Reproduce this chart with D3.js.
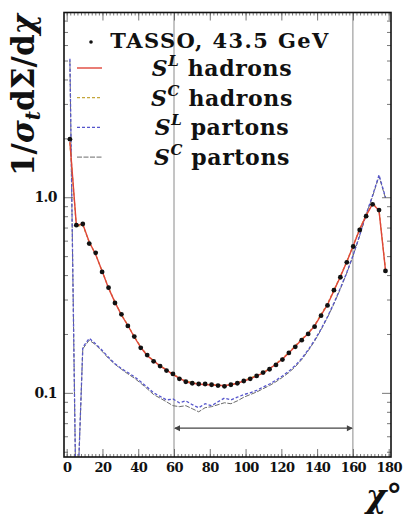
<!DOCTYPE html>
<html>
<head>
<meta charset="utf-8">
<script src="https://cdn.jsdelivr.net/npm/d3@7"></script>
<style>
  body { margin: 0; background: #fff; }
  svg { display: block; }
  text { font-family: "DejaVu Serif", serif; font-weight: bold; fill: #111; }
</style>
</head>
<body>
<svg width="404" height="516"></svg>
<script>
// bin centres of the 3.6 degree bins
var chi = [1.8, 5.4, 9.0, 12.6, 16.2, 19.8, 23.4, 27.0, 30.6, 34.2,
  37.8, 41.4, 45.0, 48.6, 52.2, 55.8, 59.4, 63.0, 66.6, 70.2,
  73.8, 77.4, 81.0, 84.6, 88.2, 91.8, 95.4, 99.0, 102.6, 106.2,
  109.8, 113.4, 117.0, 120.6, 124.2, 127.8, 131.4, 135.0, 138.6, 142.2,
  145.8, 149.4, 153.0, 156.6, 160.2, 163.8, 167.4, 171.0, 174.6, 178.2];

var tasso = [1.98, 0.72, 0.73, 0.58, 0.52, 0.415, 0.345, 0.288, 0.252, 0.220,
  0.194, 0.170, 0.156, 0.145, 0.137, 0.130, 0.125, 0.118, 0.114, 0.112,
  0.111, 0.111, 0.110, 0.109, 0.108, 0.110, 0.112, 0.115, 0.118, 0.122,
  0.127, 0.132, 0.139, 0.148, 0.160, 0.172, 0.186, 0.200, 0.218, 0.248,
  0.280, 0.335, 0.390, 0.465, 0.560, 0.680, 0.800, 0.920, 0.860, 0.420];

var hadronsL = [1.92, 0.72, 0.73, 0.59, 0.51, 0.420, 0.343, 0.290, 0.250, 0.221,
  0.193, 0.171, 0.155, 0.146, 0.137, 0.131, 0.124, 0.119, 0.114, 0.112,
  0.111, 0.110, 0.110, 0.109, 0.109, 0.110, 0.112, 0.115, 0.118, 0.122,
  0.126, 0.133, 0.140, 0.149, 0.160, 0.173, 0.187, 0.201, 0.220, 0.250,
  0.282, 0.333, 0.392, 0.468, 0.565, 0.685, 0.805, 0.925, 0.855, 0.425];

var hadronsC = [1.90, 0.71, 0.72, 0.59, 0.51, 0.418, 0.345, 0.291, 0.251, 0.222,
  0.194, 0.172, 0.156, 0.146, 0.138, 0.131, 0.125, 0.119, 0.115, 0.113,
  0.111, 0.111, 0.110, 0.110, 0.109, 0.110, 0.112, 0.116, 0.119, 0.123,
  0.127, 0.133, 0.141, 0.150, 0.161, 0.174, 0.188, 0.202, 0.222, 0.252,
  0.285, 0.336, 0.395, 0.470, 0.568, 0.690, 0.810, 0.930, 0.860, 0.430];

var partonsL = [5.1, 0.02, 0.171, 0.190, 0.178, 0.165, 0.152, 0.141, 0.133, 0.127,
  0.121, 0.114, 0.107, 0.100, 0.096, 0.092, 0.093, 0.089, 0.091, 0.087,
  0.084, 0.088, 0.086, 0.090, 0.094, 0.092, 0.095, 0.098, 0.100, 0.103,
  0.107, 0.111, 0.116, 0.122, 0.129, 0.138, 0.150, 0.166, 0.186, 0.212,
  0.245, 0.288, 0.343, 0.413, 0.508, 0.640, 0.820, 1.02, 1.30, 1.00];

var partonsC = [5.0, 0.02, 0.168, 0.186, 0.176, 0.163, 0.150, 0.140, 0.132, 0.125,
  0.119, 0.112, 0.105, 0.098, 0.094, 0.090, 0.086, 0.085, 0.086, 0.083,
  0.080, 0.084, 0.085, 0.087, 0.089, 0.088, 0.091, 0.095, 0.098, 0.101,
  0.105, 0.109, 0.114, 0.120, 0.127, 0.136, 0.148, 0.164, 0.184, 0.210,
  0.243, 0.285, 0.340, 0.410, 0.505, 0.635, 0.815, 1.01, 1.28, 0.99];

var xTicks = [0, 20, 40, 60, 80, 100, 120, 140, 160, 180];
var yTicks = [0.1, 1.0];
var fitRange = [60, 160];
var arrowLevel = 0.066;

var svg = d3.select("svg");
var pLeft = 64, pRight = 391, pTop = 12.5, pBottom = 457;

var x = d3.scaleLinear().domain([-1.5, 181.3]).range([pLeft, pRight]);
var y = d3.scaleLog().domain([0.047, 8.8]).range([pBottom, pTop]);

svg.append("defs").append("clipPath").attr("id", "plot")
  .append("rect").attr("x", pLeft).attr("y", pTop)
  .attr("width", pRight - pLeft).attr("height", pBottom - pTop);

var minorX = d3.range(0, 181, 2);
var minorY = [0.05, 0.06, 0.07, 0.08, 0.09, 0.2, 0.3, 0.4, 0.5, 0.6, 0.7, 0.8, 0.9, 2, 3, 4, 5, 6, 7, 8];

// fit range lines
var g = svg.append("g").attr("clip-path", "url(#plot)");
g.selectAll(".vline").data(fitRange).enter().append("line")
  .attr("x1", d => x(d)).attr("x2", d => x(d))
  .attr("y1", pTop).attr("y2", pBottom)
  .attr("stroke", "#8a8a8a").attr("stroke-width", 1);

// double arrow
svg.append("line")
  .attr("x1", x(fitRange[0]) + 1).attr("x2", x(fitRange[1]) - 1)
  .attr("y1", y(arrowLevel)).attr("y2", y(arrowLevel))
  .attr("stroke", "#444").attr("stroke-width", 1.4);
fitRange.forEach(function(v, i) {
  var px = x(v), py = y(arrowLevel), s = i === 0 ? 1 : -1;
  svg.append("path")
    .attr("d", "M" + px + "," + py + "l" + (6 * s) + ",-3v6z")
    .attr("fill", "#444");
});

var line = d3.line().x((d, i) => x(chi[i])).y(d => y(d));

var series = [
  {vals: partonsC, color: "#6a6a6a", dash: "5,1.5", w: 1},
  {vals: partonsL, color: "#5555cc", dash: "3,2", w: 1.3},
  {vals: hadronsC, color: "#c4a63c", dash: "3,2", w: 1.3},
  {vals: hadronsL, color: "#e0453a", dash: null, w: 1.4}
];
series.forEach(function(s) {
  g.append("path").datum(s.vals)
    .attr("d", line)
    .attr("fill", "none")
    .attr("stroke", s.color)
    .attr("stroke-width", s.w)
    .attr("stroke-dasharray", s.dash);
});

g.selectAll(".pt").data(tasso).enter().append("circle")
  .attr("cx", (d, i) => x(chi[i]))
  .attr("cy", d => y(d))
  .attr("r", 2.4)
  .attr("fill", "#111");

// axes with inward ticks
function styleLabels(a) {
  a.selectAll("text").attr("font-family", "DejaVu Serif").attr("font-weight", "bold")
    .attr("font-size", 13).attr("letter-spacing", -0.6).attr("fill", "#111");
}
svg.append("g").attr("transform", "translate(0," + pBottom + ")")
  .call(d3.axisBottom(x).tickValues(xTicks).tickSizeInner(-8).tickSizeOuter(0).tickPadding(6))
  .call(styleLabels);
svg.append("g").attr("transform", "translate(0," + pBottom + ")")
  .call(d3.axisBottom(x).tickValues(minorX).tickSize(-3).tickFormat(""));
svg.append("g").attr("transform", "translate(0," + pTop + ")")
  .call(d3.axisTop(x).tickValues(xTicks).tickSize(-8).tickFormat(""));
svg.append("g").attr("transform", "translate(0," + pTop + ")")
  .call(d3.axisTop(x).tickValues(minorX).tickSize(-3).tickFormat(""));

svg.append("g").attr("transform", "translate(" + pLeft + ",0)")
  .call(d3.axisLeft(y).tickValues(yTicks).tickSizeInner(-9).tickSizeOuter(0).tickPadding(7).tickFormat(d3.format(".1f")))
  .call(styleLabels)
  .call(a => a.selectAll("text").attr("font-size", 14));
svg.append("g").attr("transform", "translate(" + pLeft + ",0)")
  .call(d3.axisLeft(y).tickValues(minorY).tickSize(-4).tickFormat(""));
svg.append("g").attr("transform", "translate(" + pRight + ",0)")
  .call(d3.axisRight(y).tickValues(yTicks).tickSize(-9).tickFormat(""));
svg.append("g").attr("transform", "translate(" + pRight + ",0)")
  .call(d3.axisRight(y).tickValues(minorY).tickSize(-4).tickFormat(""));

svg.selectAll(".domain").remove();
svg.selectAll(".tick line").attr("stroke", "#555").attr("stroke-width", 0.8);

svg.append("rect")
  .attr("x", pLeft).attr("y", pTop)
  .attr("width", pRight - pLeft).attr("height", pBottom - pTop)
  .attr("fill", "none").attr("stroke", "#111").attr("stroke-width", 1.6);

// legend
var legend = svg.append("g");
legend.append("circle").attr("cx", 91).attr("cy", 42).attr("r", 1.8).attr("fill", "#111");
legend.append("text").attr("x", 220).attr("y", 48).attr("text-anchor", "middle")
  .attr("font-size", 21).attr("letter-spacing", 1.4).text("TASSO, 43.5 GeV");

var entries = [
  {sup: "L", label: "hadrons", s: series[3]},
  {sup: "C", label: "hadrons", s: series[2]},
  {sup: "L", label: "partons", s: series[1]},
  {sup: "C", label: "partons", s: series[0]}
];
entries.forEach(function(e, i) {
  var ly = 68 + i * 29.7;
  legend.append("line").attr("x1", 77).attr("x2", 102).attr("y1", ly).attr("y2", ly)
    .attr("stroke", e.s.color).attr("stroke-width", e.s.w).attr("stroke-dasharray", e.s.dash);
  var t = legend.append("text").attr("x", 222).attr("y", ly + 8).attr("text-anchor", "middle")
    .attr("font-size", 22).attr("letter-spacing", 0.6);
  t.append("tspan").attr("font-style", "italic").text("S");
  t.append("tspan").attr("font-style", "italic").attr("font-size", 15).attr("dy", -10).text(e.sup);
  t.append("tspan").attr("dy", 10).text(" " + e.label);
});

// axis titles
var yl = svg.append("text")
  .attr("transform", "translate(34,95) rotate(-90)")
  .attr("text-anchor", "middle").attr("font-size", 31);
yl.append("tspan").text("1/");
yl.append("tspan").attr("font-style", "italic").text("σ");
yl.append("tspan").attr("font-style", "italic").attr("font-size", 20).attr("dy", 6).text("t");
yl.append("tspan").attr("dy", -6).text("dΣ/d");
yl.append("tspan").attr("font-style", "italic").text("χ");

svg.append("text").attr("x", 402).attr("y", 507).attr("text-anchor", "end")
  .attr("font-size", 31).attr("font-weight", "normal")
  .html('<tspan font-style="italic">χ</tspan>°');
</script>
</body>
</html>
